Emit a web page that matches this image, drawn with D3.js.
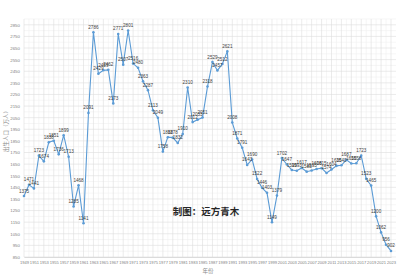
<!DOCTYPE html>
<html>
<head>
<meta charset="utf-8">
<script src="https://cdn.jsdelivr.net/npm/d3@7"></script>
<style>
  body { margin: 0; background: #fff; }
  svg text { font-family: "Liberation Sans", Arial, sans-serif; }
</style>
</head>
<body>
<div id="chart"></div>
<script>
// years on the x axis
const years = d3.range(1949, 2024);
// births (10k people)
const births = [
  1375, 1471, 1441, 1723, 1674, 1838, 1851, 1736, 1899, 1713,
  1285, 1468, 1141, 2091, 2786, 2429, 2459, 2462, 2173, 2771,
  2507, 2801, 2516, 2480, 2363, 2287, 2113, 2049, 1758, 1882,
  1878, 1832, 1910, 2310, 2012, 2033, 2051, 2318, 2529, 2457,
  2512, 2621, 2008, 1871, 1791, 1643, 1690, 1522, 1446, 1403,
  1149, 1379, 1702, 1647, 1599, 1593, 1617, 1585, 1595, 1608,
  1615, 1574, 1604, 1635, 1640, 1687, 1655, 1658, 1723, 1523,
  1465, 1200, 1062, 956, 902
];
const yTicks = d3.range(850, 2851, 100);
const yMinor = d3.range(900, 2901, 100);
const xTickYears = years.filter((y, i) => i % 2 === 0);

const W = 400, H = 277;
const margin = {top: 19, right: 8, bottom: 20, left: 24};
const blue = "#5b9bd5";

const svg = d3.select("#chart").append("svg")
  .attr("width", W).attr("height", H);

const x = d3.scalePoint()
  .domain(years)
  .range([margin.left, W - margin.right - 1]);

const y = d3.scaleLinear()
  .domain([850, 2900])
  .range([H - margin.bottom, margin.top]);

// grid
const grid = svg.append("g");
grid.selectAll(".vminor").data(years.filter((d, i) => i % 2 === 1)).enter()
  .append("line")
  .attr("x1", d => x(d)).attr("x2", d => x(d))
  .attr("y1", y(2900)).attr("y2", y(850))
  .attr("stroke", "#f0f0f0").attr("stroke-width", 0.6);
grid.selectAll(".hminor").data(yMinor).enter()
  .append("line")
  .attr("x1", margin.left).attr("x2", W - margin.right + 4)
  .attr("y1", d => y(d)).attr("y2", d => y(d))
  .attr("stroke", "#f0f0f0").attr("stroke-width", 0.6);
grid.selectAll(".vmajor").data(xTickYears).enter()
  .append("line")
  .attr("x1", d => x(d)).attr("x2", d => x(d))
  .attr("y1", y(2900)).attr("y2", y(850))
  .attr("stroke", "#dedede").attr("stroke-width", 0.6);
grid.selectAll(".hmajor").data(yTicks).enter()
  .append("line")
  .attr("x1", margin.left).attr("x2", W - margin.right + 4)
  .attr("y1", d => y(d)).attr("y2", d => y(d))
  .attr("stroke", "#dedede").attr("stroke-width", 0.6);

// axes
const yAxis = svg.append("g")
  .attr("transform", `translate(${margin.left},0)`)
  .call(d3.axisLeft(y).tickValues(yTicks).tickFormat(d3.format("d")).tickSize(0).tickPadding(4));
yAxis.select(".domain").remove();
yAxis.selectAll("text").attr("fill", "#7f7f7f").style("font-size", "4.4px");

const xAxis = svg.append("g")
  .attr("transform", `translate(0,${y(850)})`)
  .call(d3.axisBottom(x).tickValues(xTickYears).tickSize(0).tickPadding(4));
xAxis.select(".domain").attr("stroke", "#d0d0d0").attr("stroke-width", 0.7);
xAxis.selectAll("text").attr("fill", "#7f7f7f").style("font-size", "4.1px");

// axis titles
svg.append("text")
  .attr("transform", `translate(8,130) rotate(-90)`)
  .attr("text-anchor", "middle")
  .attr("fill", "#8a8a8a")
  .style("font-size", "5.5px")
  .style("font-family", "'Noto Sans CJK SC', sans-serif")
  .text("出生人口（万人）");

svg.append("text")
  .attr("x", 208).attr("y", 273)
  .attr("text-anchor", "middle")
  .attr("fill", "#8a8a8a")
  .style("font-size", "5.5px")
  .style("font-family", "'Noto Sans CJK SC', sans-serif")
  .text("年份");

// line + markers
const line = d3.line()
  .x((d, i) => x(years[i]))
  .y(d => y(d));

svg.append("path")
  .datum(births)
  .attr("fill", "none")
  .attr("stroke", blue)
  .attr("stroke-width", 1.1)
  .attr("d", line);

svg.selectAll(".pt").data(births).enter()
  .append("circle")
  .attr("cx", (d, i) => x(years[i]))
  .attr("cy", d => y(d))
  .attr("r", 1.3)
  .attr("fill", blue);

// data labels
svg.selectAll(".lbl").data(births).enter()
  .append("text")
  .attr("x", (d, i) => x(years[i]))
  .attr("y", d => y(d) - 3.5)
  .attr("text-anchor", "middle")
  .attr("fill", "#404040")
  .style("font-size", "4.6px")
  .text(d => d);

// watermark
svg.append("text")
  .attr("x", 206).attr("y", 215)
  .attr("text-anchor", "middle")
  .attr("fill", "#262626")
  .style("font-size", "9.5px")
  .style("font-weight", "bold")
  .style("font-family", "'Noto Sans CJK SC', sans-serif")
  .text("制图：远方青木");
</script>
</body>
</html>
